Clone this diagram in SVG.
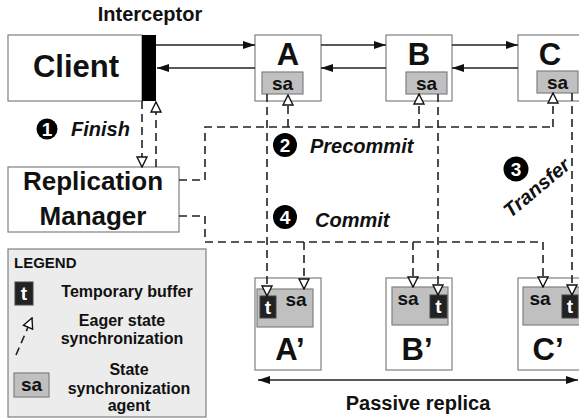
<svg xmlns="http://www.w3.org/2000/svg" width="579" height="419" viewBox="0 0 579 419">
<defs>
<style>
text{font-family:"Liberation Sans",Arial,sans-serif;font-weight:bold;fill:#111}
.box{fill:#fff;stroke:#808080;stroke-width:1.2}
.sa{fill:#c0c0c0;stroke:#808080;stroke-width:1.2}
.tb{fill:#222;stroke:#444;stroke-width:1}
.tt{fill:#fff;font-size:19px;text-anchor:middle}
.sat{font-size:19px;text-anchor:middle}
.big{font-size:31px;text-anchor:middle}
.lbl{font-size:20px;font-style:italic}
.solid{fill:none;stroke:#222;stroke-width:1.3}
.dash{fill:none;stroke:#222;stroke-width:1.6;stroke-dasharray:8 5}
.num{fill:#fff;font-size:19px;text-anchor:middle}
.leg{font-size:16px;text-anchor:middle}
</style>
<marker id="open" viewBox="0 0 12 12" refX="11" refY="6" markerWidth="12" markerHeight="12" markerUnits="userSpaceOnUse" orient="auto">
<path d="M1,1 L11,6 L1,11 z" fill="#fff" stroke="#111" stroke-width="1.4" stroke-dasharray="none"/>
</marker>
<marker id="fill" viewBox="0 0 12 8" refX="12" refY="4" markerWidth="12" markerHeight="8" markerUnits="userSpaceOnUse" orient="auto-start-reverse">
<path d="M0,0 L12,4 L0,8 z" fill="#111"/>
</marker>
</defs>

<text x="150" y="21" style="font-size:20px;text-anchor:middle">Interceptor</text>

<g id="client">
<rect class="box" x="8" y="35" width="134" height="66"/>
<rect x="142" y="35" width="14" height="66" fill="#000"/>
<text x="76" y="77" style="font-size:31px;text-anchor:middle">Client</text>
</g>

<g id="rm">
<rect class="box" x="8" y="167" width="171" height="65"/>
<text x="93" y="190" style="font-size:26px;text-anchor:middle">Replication</text>
<text x="93" y="225" style="font-size:26px;text-anchor:middle">Manager</text>
</g>

<g id="A">
<rect class="box" x="255" y="35" width="66" height="66"/>
<text class="big" x="288" y="65">A</text>
<rect class="sa" x="262" y="72" width="41" height="22"/>
<text class="sat" x="282.5" y="90">sa</text>
</g>
<g id="B">
<rect class="box" x="386" y="35" width="66" height="66"/>
<text class="big" x="419" y="65">B</text>
<rect class="sa" x="406" y="72" width="41" height="22"/>
<text class="sat" x="426.5" y="90">sa</text>
</g>
<g id="C">
<rect class="box" x="518" y="35" width="66" height="66"/>
<text class="big" x="550" y="65">C</text>
<rect class="sa" x="537" y="71" width="41" height="22"/>
<text class="sat" x="557.5" y="89">sa</text>
</g>

<g id="Ap">
<rect class="box" x="255" y="278" width="66" height="92"/>
<rect class="sa" x="257" y="289" width="56" height="38"/>
<rect class="tb" x="260" y="296" width="16" height="22"/>
<text class="tt" x="268" y="314">t</text>
<text class="sat" x="296" y="306">sa</text>
<text class="big" x="290" y="360">A’</text>
</g>
<g id="Bp">
<rect class="box" x="386" y="278" width="66" height="92"/>
<rect class="sa" x="392" y="287" width="56" height="38"/>
<rect class="tb" x="430" y="295" width="17" height="23"/>
<text class="tt" x="438.5" y="313">t</text>
<text class="sat" x="408" y="305">sa</text>
<text class="big" x="417" y="360">B’</text>
</g>
<g id="Cp">
<rect class="box" x="518" y="278" width="66" height="92"/>
<rect class="sa" x="523" y="287" width="60" height="38"/>
<rect class="tb" x="562" y="295" width="16" height="23"/>
<text class="tt" x="570" y="313">t</text>
<text class="sat" x="540" y="305">sa</text>
<text class="big" x="548" y="360">C’</text>
</g>

<g id="connectors">
<path class="solid" d="M156,45 H255" marker-end="url(#fill)"/>
<path class="solid" d="M255,68 H157" marker-end="url(#fill)"/>
<path class="solid" d="M321,45 H386" marker-end="url(#fill)"/>
<path class="solid" d="M386,68 H321" marker-end="url(#fill)"/>
<path class="solid" d="M452,45 H518" marker-end="url(#fill)"/>
<path class="solid" d="M518,68 H452" marker-end="url(#fill)"/>

<path class="dash" d="M142,101 V167" marker-end="url(#open)"/>
<path class="dash" d="M156,167 V102" marker-end="url(#open)"/>

<path class="dash" d="M179,180 H205 V127 H553"/>
<path class="dash" d="M288,127 V95" marker-end="url(#open)"/>
<path class="dash" d="M419,127 V94" marker-end="url(#open)"/>
<path class="dash" d="M553,127 V93" marker-end="url(#open)"/>

<path class="dash" d="M179,216 H205 V242 H543"/>
<path class="dash" d="M304,242 V289" marker-end="url(#open)"/>
<path class="dash" d="M413,242 V287" marker-end="url(#open)"/>
<path class="dash" d="M543,242 V287" marker-end="url(#open)"/>

<path class="dash" d="M267,94 V296" marker-end="url(#open)"/>
<path class="dash" d="M438,94 V295" marker-end="url(#open)"/>
<path class="dash" d="M572,93 V295" marker-end="url(#open)"/>

<path class="solid" d="M258,380 H578" marker-start="url(#fill)" marker-end="url(#fill)"/>
</g>

<g id="labels">
<circle cx="47" cy="129" r="10.5" fill="#000"/>
<text class="num" x="47" y="136">1</text>
<text class="lbl" x="71" y="136">Finish</text>
<circle cx="285" cy="145" r="12" fill="#000"/>
<text class="num" x="285" y="152">2</text>
<text class="lbl" x="310" y="153">Precommit</text>
<circle cx="516" cy="169" r="12.5" fill="#000"/>
<text class="num" x="516" y="176">3</text>
<text class="lbl" x="0" y="0" text-anchor="middle" transform="translate(541,193) rotate(-40)">Transfer</text>
<circle cx="285" cy="217" r="12" fill="#000"/>
<text class="num" x="285" y="224">4</text>
<text class="lbl" x="315" y="227">Commit</text>
<text x="418" y="410" style="font-size:20px;text-anchor:middle">Passive replica</text>
</g>

<g id="legend">
<rect x="8" y="249" width="198" height="168" fill="#ececec" stroke="#808080" stroke-width="1.2"/>
<text x="14" y="268" style="font-size:15px">LEGEND</text>
<rect class="tb" x="15" y="282" width="18" height="23"/>
<text class="tt" x="24" y="300">t</text>
<text class="leg" x="127" y="297" style="text-anchor:middle">Temporary buffer</text>
<path class="dash" d="M16,355 L32,318" marker-end="url(#open)"/>
<text class="leg" x="122" y="326">Eager state</text>
<text class="leg" x="122" y="344">synchronization</text>
<rect class="sa" x="14" y="373" width="35" height="24"/>
<text class="sat" x="31.5" y="391">sa</text>
<text class="leg" x="129" y="375">State</text>
<text class="leg" x="129" y="394">synchronization</text>
<text class="leg" x="129" y="411">agent</text>
</g>
</svg>
